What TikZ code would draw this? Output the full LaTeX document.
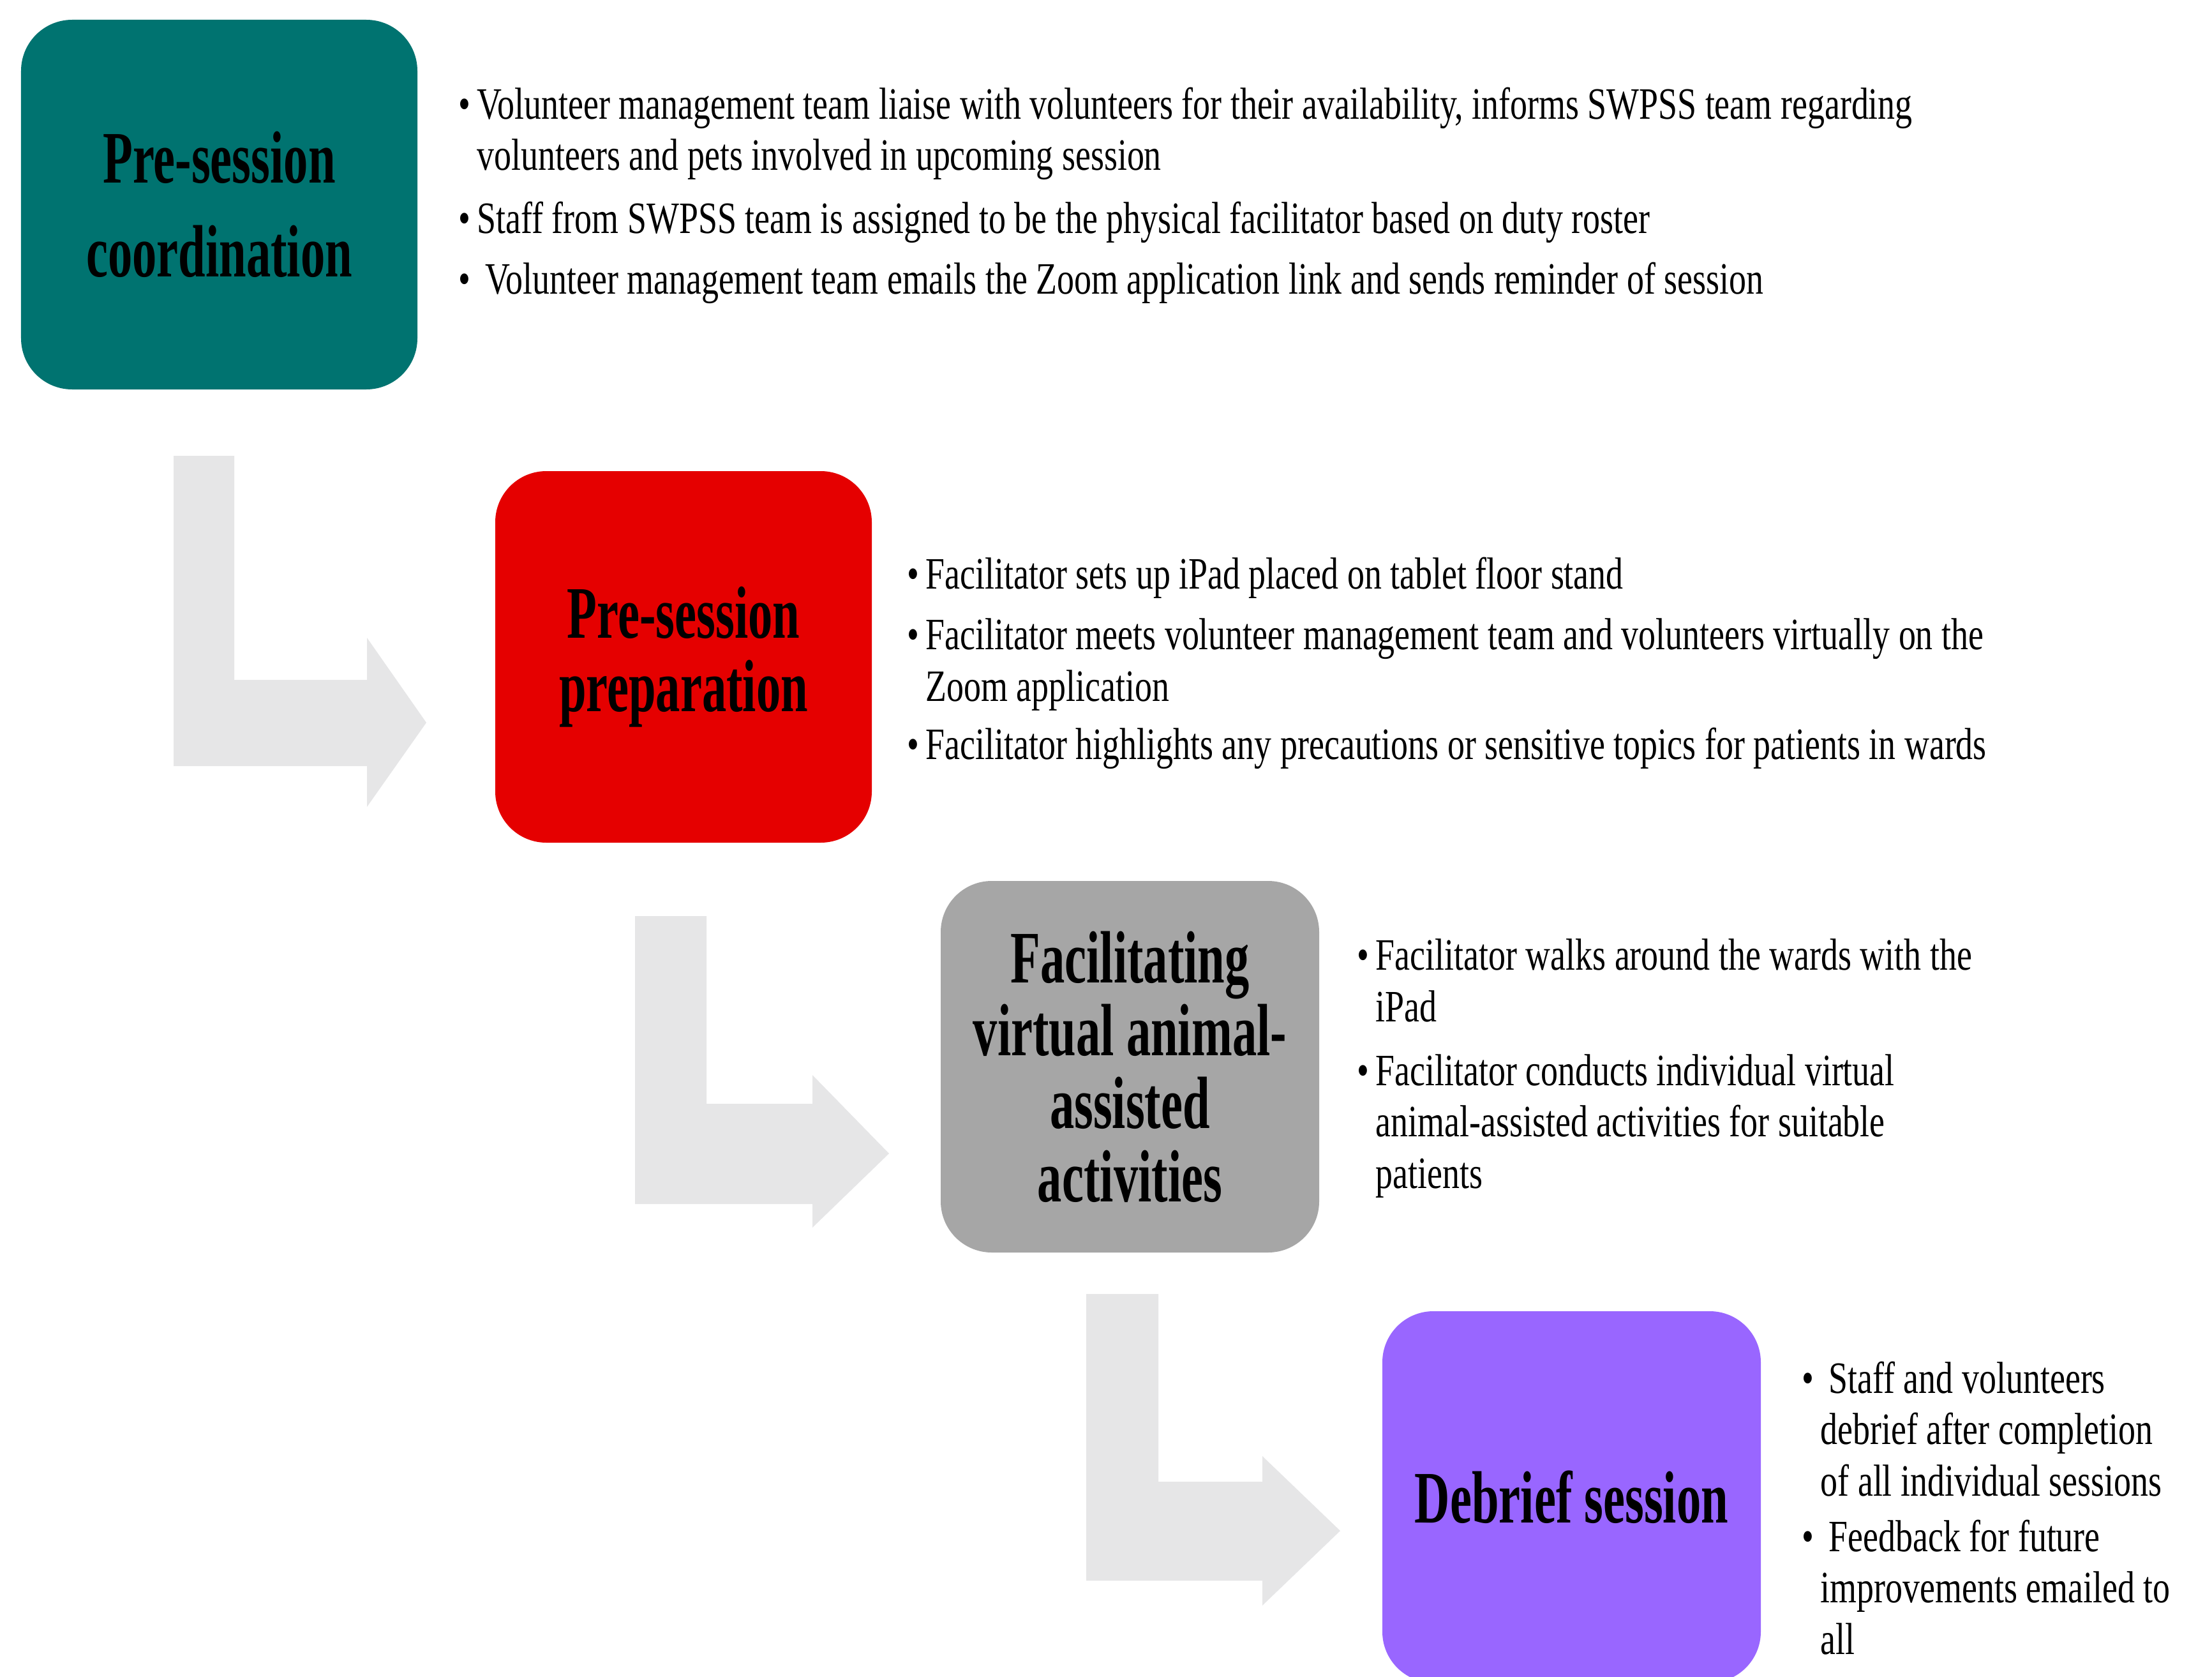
\documentclass[tikz,border=0pt]{standalone}
\usepackage{fontspec}
\setmainfont{Liberation Serif}[FakeStretch=0.767]
\newfontfamily\titlefont{Liberation Serif}[FakeStretch=0.66]
\usepackage{tikz}
\usetikzlibrary{positioning}

\definecolor{tealbox}{RGB}{0,115,112}
\definecolor{redbox}{RGB}{229,0,0}
\definecolor{greybox}{RGB}{166,166,166}
\definecolor{purplebox}{RGB}{153,102,255}
\definecolor{arrowgrey}{RGB}{230,230,231}

\newcommand{\bul}{\makebox[0.29cm][l]{\textbullet}}
\newcommand{\ind}{\hspace*{0.29cm}}

\tikzset{
  stage/.style={rounded corners=0.8cm, inner sep=0pt, align=center,
    minimum width=5.93cm, minimum height=5.82cm,
    font=\titlefont\fontsize{33}{32.5}\selectfont\bfseries},
  bullets/.style={anchor=base west, align=left, inner sep=0pt,
    font=\fontsize{20}{22.8}\selectfont},
  bentarrow/.style={fill=arrowgrey}
}

\begin{document}
\begin{tikzpicture}
	\useasboundingbox[fill=white] (0,0) rectangle (34.66,-26.27);
	% bent arrows
	\fill[bentarrow] (2.72,-7.14) -- (3.67,-7.14) -- (3.67,-10.65) -- (5.75,-10.65) -- (5.75,-9.99)
		-- (6.68,-11.32) -- (5.75,-12.64) -- (5.75,-12.00) -- (2.72,-12.00) -- cycle;
	\fill[bentarrow] (9.95,-14.35) -- (11.07,-14.35) -- (11.07,-17.29) -- (12.73,-17.29) -- (12.73,-16.84)
		-- (13.93,-18.07) -- (12.73,-19.23) -- (12.73,-18.86) -- (9.95,-18.86) -- cycle;
	\fill[bentarrow] (17.02,-20.27) -- (18.15,-20.27) -- (18.15,-23.21) -- (19.78,-23.21) -- (19.78,-22.81)
		-- (21.00,-23.98) -- (19.78,-25.15) -- (19.78,-24.76) -- (17.02,-24.76) -- cycle;
	% stages
	\node[stage, fill=tealbox, minimum width=6.21cm, minimum height=5.79cm,
		font=\titlefont\fontsize{33}{42}\selectfont\bfseries] (coord) at (3.435,-3.205) {Pre-session\\coordination};
	\node[stage, fill=redbox, minimum width=5.90cm] (prep) at (10.71,-10.29) {Pre-session\\preparation};
	\node[stage, fill=greybox] (facil) at (17.705,-16.71) {Facilitating\\virtual animal-\\assisted\\activities};
	\node[stage, fill=purplebox] (debrief) at (24.625,-23.45) {Debrief session};
	% bullet points (anchored at the baseline of their last line)
	\node[bullets] (coord1) at (7.18,-2.67) {\bul Volunteer management team liaise with volunteers for their availability, informs SWPSS team regarding\\
		\ind volunteers and pets involved in upcoming session};
	\node[bullets] (coord2) at (7.18,-3.65) {\bul Staff from SWPSS team is assigned to be the physical facilitator based on duty roster};
	\node[bullets] (coord3) at (7.18,-4.60) {\bul\hspace{0.13cm}Volunteer management team emails the Zoom application link and sends reminder of session};
	\node[bullets] (prep1) at (14.21,-9.22) {\bul Facilitator sets up iPad placed on tablet floor stand};
	\node[bullets] (prep2) at (14.21,-10.98) {\bul Facilitator meets volunteer management team and volunteers virtually on the\\
		\ind Zoom application};
	\node[bullets] (prep3) at (14.21,-11.89) {\bul Facilitator highlights any precautions or sensitive topics for patients in wards};
	\node[bullets] (facil1) at (21.26,-16.00) {\bul Facilitator walks around the wards with the\\
		\ind iPad};
	\node[bullets] (facil2) at (21.26,-18.61) {\bul Facilitator conducts individual virtual\\
		\ind animal-assisted activities for suitable\\
		\ind patients};
	\node[bullets] (debrief1) at (28.23,-23.43) {\bul\hspace{0.13cm}Staff and volunteers\\
		\ind debrief after completion\\
		\ind of all individual sessions};
	\node[bullets] (debrief2) at (28.23,-25.91) {\bul\hspace{0.13cm}Feedback for future\\
		\ind improvements emailed to\\
		\ind all};
\end{tikzpicture}
\end{document}
